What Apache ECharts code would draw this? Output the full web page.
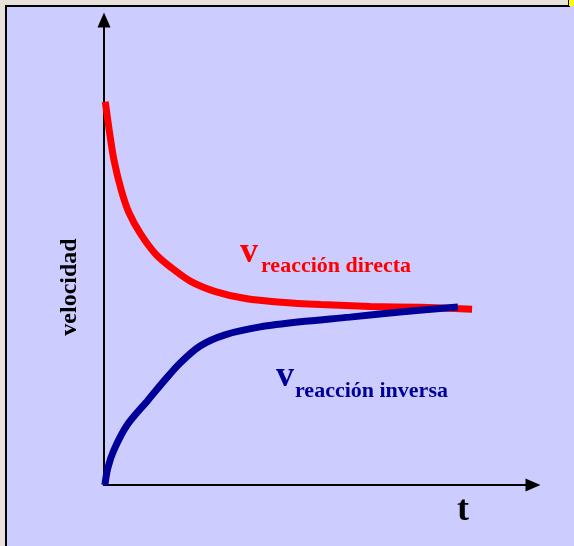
<!DOCTYPE html>
<html>
<head>
<meta charset="utf-8">
<script src="https://cdn.jsdelivr.net/npm/echarts@6/dist/echarts.min.js"></script>
<style>
html,body{margin:0;padding:0;background:#E6E2DA;}
#chart{width:574px;height:546px;}
</style>
</head>
<body>
<div id="chart"></div>
<script>
// Time values (arbitrary units) and velocities
const redT = [0.3, 1.2, 2.3, 4.0, 5.8, 8.6, 12.1, 15.6, 20.2, 26.0, 33.0, 41.2, 50.5, 62.1, 73.7, 85.8];
const redV = [82.4, 76.4, 70.0, 63.5, 58.6, 53.9, 49.6, 46.8, 43.8, 41.6, 40.1, 39.3, 38.8, 38.4, 38.2, 37.8];
const blueT = [0.2, 0.9, 2.3, 5.4, 10.3, 14.2, 17.7, 22.4, 28.2, 36.4, 45.7, 57.3, 69.0, 82.5];
const blueV = [0.0, 3.7, 7.5, 12.9, 18.3, 22.6, 26.2, 29.9, 32.3, 34.0, 35.1, 36.1, 37.2, 38.3];
const yName = 'velocidad';
const xName = 't';
const redLabel = ['v', 'reacción directa'];
const blueLabel = ['v', 'reacción inversa'];

const redData = redT.map((t, i) => [t, redV[i]]);
const blueData = blueT.map((t, i) => [t, blueV[i]]);

const chart = echarts.init(document.getElementById('chart'));
const serif = "'Liberation Serif','DejaVu Serif',serif";
const axisCommon = {
  type: 'value', min: 0, max: 100,
  axisLabel: {show: false}, axisTick: {show: false}, splitLine: {show: false},
  axisLine: {show: true, onZero: false, symbol: ['none', 'triangle'], symbolSize: [13, 15],
    lineStyle: {color: '#000', width: 2}}
};
chart.setOption({
  backgroundColor: 'transparent',
  animation: false,
  grid: {left: 104, right: 41, top: 20, bottom: 61},
  xAxis: Object.assign({}, axisCommon),
  yAxis: Object.assign({}, axisCommon),
  graphic: [
    {type: 'rect', z: -20, shape: {x: 7, y: 6, width: 570, height: 545}, style: {fill: '#CCCCFF'}},
    {type: 'rect', z: -19, shape: {x: 5, y: 5, width: 565, height: 2}, style: {fill: '#000'}},
    {type: 'rect', z: -19, shape: {x: 5, y: 5, width: 2, height: 545}, style: {fill: '#000'}},
    {type: 'rect', z: -19, shape: {x: 569, y: 0, width: 5, height: 6}, style: {fill: '#FFFF00'}},
    {type: 'rect', z: -19, shape: {x: 568, y: 0, width: 1, height: 6}, style: {fill: '#000'}},
    {type: 'text', z: 10, x: 240, y: 253, style: {text: redLabel[0], font: 'bold 36px ' + serif, fill: '#FF0000', align: 'left', verticalAlign: 'middle'}},
    {type: 'text', z: 10, x: 261, y: 266, style: {text: redLabel[1], font: 'bold 22px ' + serif, fill: '#FF0000', align: 'left', verticalAlign: 'middle'}},
    {type: 'text', z: 10, x: 276, y: 377, style: {text: blueLabel[0], font: 'bold 36px ' + serif, fill: '#000099', align: 'left', verticalAlign: 'middle'}},
    {type: 'text', z: 10, x: 295, y: 391, style: {text: blueLabel[1], font: 'bold 22px ' + serif, fill: '#000099', align: 'left', verticalAlign: 'middle'}},
    {type: 'text', z: 10, x: 457, y: 511, style: {text: xName, font: 'bold 36px ' + serif, fill: '#000', align: 'left', verticalAlign: 'middle'}},
    {type: 'text', z: 10, x: 70, y: 287, rotation: Math.PI / 2, style: {text: yName, font: 'bold 24px ' + serif, fill: '#000', align: 'center', verticalAlign: 'middle'}}
  ],
  series: [
    {type: 'line', data: redData, smooth: 0.3, showSymbol: false, z: 3,
      lineStyle: {color: '#FF0000', width: 7, cap: 'butt'}},
    {type: 'line', data: blueData, smooth: 0.3, showSymbol: false, z: 4,
      lineStyle: {color: '#000099', width: 7, cap: 'butt'}}
  ]
});
</script>
</body>
</html>
